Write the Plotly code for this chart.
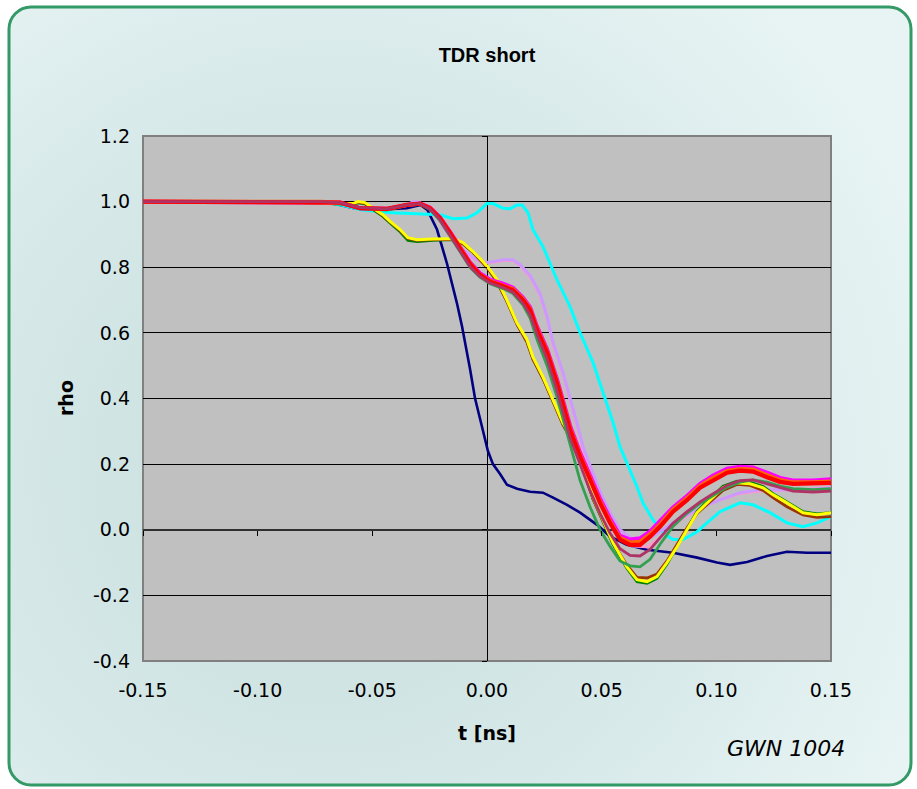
import base64
import plotly.graph_objects as go

# ---- TDR step responses (t in ns, reflection coefficient rho) ----
flat_t = [-0.15, -0.12, -0.09, -0.072]
flat_r = [1.0, 1.0, 1.0, 1.0]

navy_t = flat_t + [-0.064, -0.058, -0.045, -0.035, -0.029, -0.026, -0.0218, -0.0174, -0.0131,
                   -0.0109, -0.0074, -0.0052, -0.0017, 0.0004, 0.0026, 0.0057, 0.0087, 0.0131,
                   0.0188, 0.0244, 0.0288, 0.0349, 0.0406, 0.048, 0.0536, 0.061, 0.0698, 0.0811,
                   0.0916, 0.1003, 0.106, 0.1134, 0.1221, 0.1308, 0.1396, 0.15]
navy_r = flat_r + [0.99, 0.98, 0.976, 0.98, 0.99, 0.975, 0.915, 0.81, 0.69,
                   0.62, 0.49, 0.40, 0.30, 0.24, 0.20, 0.17, 0.137, 0.125,
                   0.116, 0.113, 0.098, 0.076, 0.052, 0.015, -0.02, -0.046, -0.061, -0.07,
                   -0.085, -0.10, -0.107, -0.098, -0.08, -0.067, -0.07, -0.07]

cyan_t = flat_t + [-0.064, -0.055, -0.045, -0.041, -0.0205, -0.0148, -0.0087, -0.0044, 0.0,
                   0.0026, 0.007, 0.01, 0.0131, 0.0153, 0.0179, 0.02, 0.0244, 0.0275, 0.0305,
                   0.0362, 0.0406, 0.0462, 0.0506, 0.055, 0.058, 0.061, 0.0654, 0.068, 0.0724,
                   0.0768, 0.0811, 0.0855, 0.0916, 0.0959, 0.1016, 0.1103, 0.116, 0.1234,
                   0.1308, 0.1378, 0.1439, 0.15]
cyan_r = flat_r + [0.99, 0.975, 0.968, 0.966, 0.96, 0.948, 0.95, 0.966, 0.994,
                   0.994, 0.98, 0.978, 0.99, 0.99, 0.966, 0.915, 0.863, 0.814, 0.762,
                   0.68, 0.60, 0.51, 0.418, 0.326, 0.253, 0.204, 0.131, 0.082, 0.03,
                   -0.01, -0.03, -0.03, -0.006, 0.021, 0.055, 0.082, 0.076, 0.052,
                   0.021, 0.009, 0.021, 0.04]

yellow_t = [-0.15, -0.12, -0.09, -0.0693, -0.0584, -0.0563, -0.0532, -0.0497, -0.0454, -0.0423,
            -0.0379, -0.0345, -0.0305, -0.0235, -0.0148, -0.0105, -0.0061, -0.0017, 0.0004,
            0.0044, 0.0087, 0.0131, 0.0174, 0.02, 0.0244, 0.0288, 0.0331, 0.0375, 0.0419,
            0.0462, 0.0506, 0.055, 0.061, 0.0654, 0.0698, 0.0741, 0.0785, 0.0829, 0.0872,
            0.0916, 0.0972, 0.1029, 0.109, 0.1147, 0.1204, 0.1247, 0.1308, 0.1378, 0.1439, 0.15]
yellow_r = [1.0, 1.0, 1.0, 0.994, 0.994, 1.0, 0.997, 0.98, 0.96, 0.94,
            0.915, 0.89, 0.884, 0.886, 0.887, 0.875, 0.848, 0.817, 0.80,
            0.762, 0.70, 0.63, 0.58, 0.527, 0.466, 0.396, 0.326, 0.274, 0.192,
            0.10, 0.03, -0.04, -0.113, -0.152, -0.158, -0.143, -0.10, -0.052, 0.0,
            0.052, 0.09, 0.128, 0.143, 0.14, 0.128, 0.107, 0.082, 0.052, 0.046, 0.052]

brown_t = yellow_t
brown_r = [1.0, 1.0, 1.0, 0.994, 0.994, 0.998, 0.995, 0.978, 0.958, 0.938,
           0.912, 0.888, 0.882, 0.884, 0.884, 0.872, 0.845, 0.812, 0.795,
           0.755, 0.695, 0.625, 0.572, 0.52, 0.46, 0.39, 0.32, 0.265, 0.185,
           0.095, 0.025, -0.04, -0.108, -0.145, -0.147, -0.135, -0.095, -0.045, 0.005,
           0.05, 0.085, 0.12, 0.138, 0.135, 0.12, 0.098, 0.07, 0.045, 0.038, 0.04]

dkgreen_t = yellow_t
dkgreen_r = [1.0, 1.0, 1.0, 0.994, 0.992, 0.996, 0.993, 0.976, 0.955, 0.935,
             0.908, 0.882, 0.878, 0.882, 0.884, 0.872, 0.846, 0.815, 0.797,
             0.758, 0.697, 0.628, 0.575, 0.522, 0.462, 0.392, 0.322, 0.268, 0.186,
             0.094, 0.024, -0.045, -0.117, -0.158, -0.163, -0.148, -0.104, -0.052, 0.002,
             0.056, 0.095, 0.133, 0.148, 0.145, 0.132, 0.11, 0.085, 0.055, 0.048, 0.052]

group_t = [-0.15, -0.12, -0.09, -0.0728, -0.0641, -0.0554, -0.0436, -0.0349, -0.0292, -0.0249,
           -0.0205, -0.0161, -0.0118, -0.0074, -0.0031, 0.0013, 0.007, 0.0113, 0.0157,
           0.0188, 0.0218, 0.0262, 0.0305, 0.0331, 0.0362, 0.0406, 0.0449, 0.0493, 0.0536,
           0.058, 0.0624, 0.0667, 0.0711, 0.0754, 0.0811, 0.0872, 0.0929, 0.0986, 0.1047,
           0.1103, 0.116, 0.1221, 0.1278, 0.1334, 0.1422, 0.15]

red_r = [1.0, 1.0, 1.0, 1.0, 0.997, 0.98, 0.978, 0.99, 0.994, 0.98,
         0.95, 0.905, 0.86, 0.81, 0.777, 0.756, 0.742, 0.73, 0.70,
         0.67, 0.61, 0.54, 0.448, 0.387, 0.305, 0.223, 0.152, 0.082, 0.021,
         -0.03, -0.046, -0.046, -0.021, 0.009, 0.055, 0.09, 0.128, 0.152, 0.174,
         0.18, 0.177, 0.16, 0.146, 0.14, 0.14, 0.143]

magenta_r = [1.0, 1.0, 1.0, 1.0, 0.997, 0.98, 0.978, 0.99, 0.994, 0.982,
             0.952, 0.908, 0.864, 0.815, 0.782, 0.762, 0.75, 0.738, 0.708,
             0.678, 0.62, 0.55, 0.46, 0.40, 0.318, 0.235, 0.165, 0.095, 0.035,
             -0.018, -0.03, -0.026, -0.005, 0.025, 0.068, 0.103, 0.14, 0.165, 0.186,
             0.192, 0.19, 0.174, 0.158, 0.15, 0.15, 0.154]

orange_r = [1.0, 1.0, 1.0, 1.0, 0.997, 0.98, 0.978, 0.99, 0.994, 0.981,
            0.951, 0.906, 0.862, 0.812, 0.779, 0.759, 0.746, 0.734, 0.704,
            0.674, 0.615, 0.545, 0.454, 0.393, 0.311, 0.229, 0.158, 0.088, 0.028,
            -0.024, -0.038, -0.036, -0.013, 0.017, 0.062, 0.097, 0.134, 0.159, 0.18,
            0.186, 0.184, 0.167, 0.152, 0.145, 0.145, 0.148]

maroon_r = [1.0, 1.0, 1.0, 1.0, 0.997, 0.982, 0.978, 0.99, 0.994, 0.978,
            0.945, 0.898, 0.852, 0.802, 0.772, 0.752, 0.738, 0.724, 0.69,
            0.655, 0.595, 0.52, 0.425, 0.36, 0.28, 0.20, 0.12, 0.05, -0.01,
            -0.058, -0.078, -0.08, -0.06, -0.025, 0.02, 0.055, 0.085, 0.11, 0.135,
            0.15, 0.152, 0.14, 0.128, 0.118, 0.115, 0.118]

green_r = [1.0, 1.0, 1.0, 1.0, 0.996, 0.978, 0.974, 0.988, 0.992, 0.976,
           0.942, 0.895, 0.848, 0.8, 0.77, 0.75, 0.735, 0.72, 0.685,
           0.645, 0.58, 0.50, 0.405, 0.34, 0.26, 0.15, 0.07, 0.0, -0.05,
           -0.095, -0.11, -0.113, -0.09, -0.045, 0.01, 0.05, 0.08, 0.105, 0.13,
           0.145, 0.152, 0.145, 0.133, 0.125, 0.122, 0.125]

plum_t = [-0.15, -0.12, -0.09, -0.0728, -0.0641, -0.0554, -0.0436, -0.0349, -0.032, -0.0292,
          -0.0235, -0.019, -0.0148, -0.0105, -0.0061, -0.0017, 0.0026, 0.007, 0.0113, 0.0144,
          0.0188, 0.0231, 0.0262, 0.0288, 0.0331, 0.0362, 0.0392, 0.0419, 0.0449, 0.0493,
          0.0536, 0.058, 0.0637, 0.0698, 0.0754, 0.0811, 0.0872, 0.0929, 0.1016, 0.1103,
          0.119, 0.1278, 0.1396, 0.15]
plum_r = [1.0, 1.0, 1.0, 1.0, 0.997, 0.98, 0.978, 0.99, 1.0, 0.997,
          0.976, 0.924, 0.884, 0.854, 0.83, 0.814, 0.817, 0.823, 0.823, 0.808,
          0.775, 0.72, 0.65, 0.57, 0.48, 0.405, 0.326, 0.253, 0.195, 0.115,
          0.052, 0.0, -0.03, -0.03, -0.006, 0.021, 0.046, 0.067, 0.091, 0.113,
          0.122, 0.122, 0.122, 0.128]

pink_t = plum_t
pink_r = [1.0, 1.0, 1.0, 1.0, 0.997, 0.98, 0.978, 0.99, 0.998, 0.995,
          0.974, 0.922, 0.882, 0.852, 0.828, 0.812, 0.815, 0.82, 0.82, 0.805,
          0.77, 0.715, 0.645, 0.565, 0.475, 0.398, 0.318, 0.245, 0.185, 0.102,
          0.035, -0.018, -0.05, -0.052, -0.025, 0.012, 0.042, 0.065, 0.092, 0.11,
          0.118, 0.12, 0.124, 0.13]

# (name, t, rho, colour, width) in drawing order, bottom first
series = [
    ("navy", navy_t, navy_r, "#000080", 2.6),
    ("cyan", cyan_t, cyan_r, "#00FFFF", 3.0),
    ("pink", pink_t, pink_r, "#FF99CC", 2.8),
    ("plum", plum_t, plum_r, "#CC99FF", 3.0),
    ("dkgreen", dkgreen_t, dkgreen_r, "#008000", 2.8),
    ("brown", brown_t, brown_r, "#993300", 2.8),
    ("yellow", yellow_t, yellow_r, "#FFFF00", 3.0),
    ("green", group_t, green_r, "#33A050", 2.8),
    ("magenta", group_t, magenta_r, "#FF00FF", 4.0),
    ("orange", group_t, orange_r, "#FF6600", 3.6),
    ("red", group_t, red_r, "#FF0000", 4.2),
    ("maroon", group_t, maroon_r, "#B03366", 2.8),
]

fig = go.Figure()
for name, t, r, col, w in series:
    fig.add_trace(go.Scatter(x=t, y=r, mode="lines", name=name,
                             line=dict(color=col, width=w), showlegend=False,
                             hoverinfo="skip"))

W, H = 917, 789
ML, MR, MT, MB = 143, 86, 136, 128
PW, PH = W - ML - MR, H - MT - MB

# rounded panel with a soft radial tint behind the chart
svg = f"""<svg xmlns='http://www.w3.org/2000/svg' width='{W}' height='{H}' viewBox='0 0 {W} {H}'>
<defs><radialGradient id='g' cx='330' cy='470' r='640' gradientUnits='userSpaceOnUse'>
<stop offset='0' stop-color='#C9DEDE'/><stop offset='0.55' stop-color='#D6E8E8'/>
<stop offset='1' stop-color='#E8F4F4'/></radialGradient></defs>
<rect x='9' y='7' width='902' height='778' rx='22' ry='22' fill='url(#g)' stroke='#339966' stroke-width='3'/>
</svg>"""
src = "data:image/svg+xml;base64," + base64.b64encode(svg.encode()).decode()
fig.add_layout_image(dict(source=src, xref="paper", yref="paper",
                          x=-ML / PW, y=1 + MT / PH, sizex=W / PW, sizey=H / PH,
                          xanchor="left", yanchor="top", sizing="stretch", layer="below"))
# grey plotting area, laid over the panel and under the grid
fig.add_shape(type="rect", xref="paper", yref="paper", x0=0, x1=1, y0=0, y1=1,
              fillcolor="#C0C0C0", line=dict(color="#808080", width=2), layer="below")

TICKFONT = dict(family="DejaVu Sans, Verdana, sans-serif", size=19, color="black")
fig.update_layout(
    width=W, height=H,
    margin=dict(l=ML, r=MR, t=MT, b=MB, pad=0),
    paper_bgcolor="white", plot_bgcolor="rgba(0,0,0,0)",
    font=dict(family="Liberation Sans, Arial, sans-serif", size=18, color="black"),
    title=dict(text="<b>TDR short</b>", x=(ML + PW / 2) / W, xanchor="center",
               y=1 - 55 / H, yanchor="middle", font=dict(size=20)),
    xaxis=dict(range=[-0.15, 0.15], tickvals=[-0.15, -0.10, -0.05, 0.0, 0.05, 0.10, 0.15],
               ticktext=["-0.15", "-0.10", "-0.05", "0.00", "0.05", "0.10", "0.15"],
               tickfont=TICKFONT,
               showgrid=False, zeroline=True, zerolinecolor="black", zerolinewidth=1,
               showline=False, ticks="", ticklabelstandoff=16, fixedrange=True),
    yaxis=dict(range=[-0.4, 1.2], tickvals=[-0.4, -0.2, 0.0, 0.2, 0.4, 0.6, 0.8, 1.0, 1.2],
               ticktext=["-0.4", "-0.2", "0.0", "0.2", "0.4", "0.6", "0.8", "1.0", "1.2"],
               tickfont=TICKFONT,
               showgrid=True, gridcolor="black", gridwidth=1,
               zeroline=True, zerolinecolor="#303030", zerolinewidth=1.5,
               showline=False, ticks="", ticklabelstandoff=12, fixedrange=True),
    # tick marks carried on the axes that cross at the origin
    xaxis2=dict(overlaying="x", matches="x", anchor="free", position=0.25, side="bottom",
                tickvals=[-0.15, -0.10, -0.05, 0.0, 0.05, 0.10, 0.15], showticklabels=False,
                ticks="outside", ticklen=5, tickcolor="black", tickwidth=1,
                showgrid=False, zeroline=False, showline=False),
    yaxis2=dict(overlaying="y", matches="y", anchor="free", position=0.5, side="left",
                tickvals=[-0.4, -0.2, 0.0, 0.2, 0.4, 0.6, 0.8, 1.0, 1.2], showticklabels=False,
                ticks="outside", ticklen=5, tickcolor="black", tickwidth=1,
                showgrid=False, zeroline=False, showline=False),
)
# invisible trace to bring the crossing axes to life
fig.add_trace(go.Scatter(x=[None], y=[None], xaxis="x2", yaxis="y2", showlegend=False,
                         hoverinfo="skip"))

fig.add_annotation(text="<b>t [ns]</b>", xref="paper", yref="paper",
                   x=0.5, y=-(733 - (MT + PH)) / PH, showarrow=False,
                   xanchor="center", yanchor="middle",
                   font=dict(family="DejaVu Sans, sans-serif", size=19))
fig.add_annotation(text="<b>rho</b>", xref="paper", yref="paper",
                   x=-(ML - 66) / PW, y=(MT + PH - 398) / PH, showarrow=False,
                   textangle=-90, xanchor="center", yanchor="middle",
                   font=dict(family="DejaVu Sans, sans-serif", size=19))
fig.add_annotation(text="GWN 1004", xref="paper", yref="paper",
                   x=(786 - ML) / PW, y=-(748 - (MT + PH)) / PH, showarrow=False,
                   xanchor="center", yanchor="middle",
                   font=dict(family="DejaVu Sans, sans-serif", size=22, style="italic"))

fig.write_html("out.html")
